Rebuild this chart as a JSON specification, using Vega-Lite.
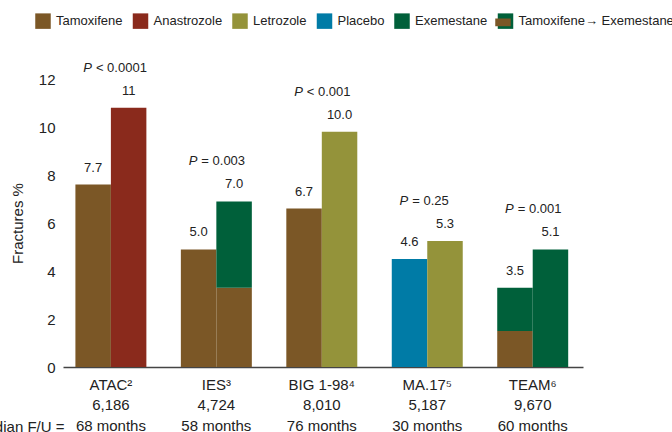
{
  "$schema": "https://vega.github.io/schema/vega-lite/v6.json",
  "width": 520,
  "height": 288,
  "autosize": {"type": "none"},
  "padding": {"left": 63, "top": 79, "right": 89, "bottom": 65},
  "background": "white",
  "config": {
    "view": {"stroke": null},
    "font": "Liberation Sans",
    "text": {"font": "Liberation Sans", "fontSize": 13, "color": "#222"}
  },
  "datasets": {
    "bars": [
      {"study": "ATAC²|6,186|68 months", "side": "a", "drug": "Tamoxifene", "lo": 0, "hi": 7.6},
      {"study": "ATAC²|6,186|68 months", "side": "b", "drug": "Anastrozole", "lo": 0, "hi": 10.8},
      {"study": "IES³|4,724|58 months", "side": "a", "drug": "Tamoxifene", "lo": 0, "hi": 4.9},
      {"study": "IES³|4,724|58 months", "side": "b", "drug": "Tamoxifene", "lo": 0, "hi": 3.3},
      {"study": "IES³|4,724|58 months", "side": "b", "drug": "Exemestane", "lo": 3.3, "hi": 6.9},
      {"study": "BIG 1-98⁴|8,010|76 months", "side": "a", "drug": "Tamoxifene", "lo": 0, "hi": 6.6},
      {"study": "BIG 1-98⁴|8,010|76 months", "side": "b", "drug": "Letrozole", "lo": 0, "hi": 9.8},
      {"study": "MA.17⁵|5,187|30 months", "side": "a", "drug": "Placebo", "lo": 0, "hi": 4.5},
      {"study": "MA.17⁵|5,187|30 months", "side": "b", "drug": "Letrozole", "lo": 0, "hi": 5.25},
      {"study": "TEAM⁶|9,670|60 months", "side": "a", "drug": "Tamoxifene", "lo": 0, "hi": 1.5},
      {"study": "TEAM⁶|9,670|60 months", "side": "a", "drug": "Exemestane", "lo": 1.5, "hi": 3.3},
      {"study": "TEAM⁶|9,670|60 months", "side": "b", "drug": "Exemestane", "lo": 0, "hi": 4.9}
    ],
    "vals": [
      {"study": "ATAC²|6,186|68 months", "side": "a", "top": 7.6, "label": "7.7"},
      {"study": "ATAC²|6,186|68 months", "side": "b", "top": 10.8, "label": "11"},
      {"study": "IES³|4,724|58 months", "side": "a", "top": 4.9, "label": "5.0"},
      {"study": "IES³|4,724|58 months", "side": "b", "top": 6.9, "label": "7.0"},
      {"study": "BIG 1-98⁴|8,010|76 months", "side": "a", "top": 6.6, "label": "6.7"},
      {"study": "BIG 1-98⁴|8,010|76 months", "side": "b", "top": 9.8, "label": "10.0"},
      {"study": "MA.17⁵|5,187|30 months", "side": "a", "top": 4.5, "label": "4.6"},
      {"study": "MA.17⁵|5,187|30 months", "side": "b", "top": 5.25, "label": "5.3"},
      {"study": "TEAM⁶|9,670|60 months", "side": "a", "top": 3.3, "label": "3.5"},
      {"study": "TEAM⁶|9,670|60 months", "side": "b", "top": 4.9, "label": "5.1"}
    ],
    "pv": [
      {"study": "ATAC²|6,186|68 months", "top": 10.8, "p": "P", "rest": "< 0.0001"},
      {"study": "IES³|4,724|58 months", "top": 6.9, "p": "P", "rest": "= 0.003"},
      {"study": "BIG 1-98⁴|8,010|76 months", "top": 9.8, "p": "P", "rest": "< 0.001"},
      {"study": "MA.17⁵|5,187|30 months", "top": 5.25, "p": "P", "rest": "= 0.25"},
      {"study": "TEAM⁶|9,670|60 months", "top": 4.9, "p": "P", "rest": "= 0.001"}
    ],
    "combo": [
      {"combo": "Tamoxifene→ Exemestane"}
    ]
  },
  "layer": [
    {
      "data": {"name": "bars"},
      "mark": {"type": "bar"},
      "encoding": {
        "x": {
          "field": "study", "type": "nominal", "title": "Median F/U =",
          "scale": {
            "domain": ["ATAC²|6,186|68 months", "IES³|4,724|58 months", "BIG 1-98⁴|8,010|76 months", "MA.17⁵|5,187|30 months", "TEAM⁶|9,670|60 months"],
            "paddingInner": 0.327, "paddingOuter": 0.129, "align": 0.456
          },
          "axis": {
            "domainColor": "#444", "domainWidth": 1.5, "ticks": false, "grid": false,
            "labelExpr": "split(datum.value, '|')",
            "labelAngle": 0, "labelFontSize": 15, "labelLineHeight": 20.5, "labelPadding": 10,
            "labelColor": "#222", "labelFont": "Liberation Sans, DejaVu Sans",
            "titleFont": "Liberation Sans", "titleFontSize": 15, "titleFontWeight": "normal", "titleColor": "#222",
            "titleAlign": "right", "titleBaseline": "middle", "titleX": 1, "titleY": 59
          }
        },
        "xOffset": {"field": "side", "type": "nominal", "scale": {"domain": ["a", "b"], "paddingInner": 0, "paddingOuter": 0}},
        "y": {
          "field": "lo", "type": "quantitative", "title": "Fractures %",
          "scale": {"domain": [0, 12]},
          "axis": {
            "values": [0, 2, 4, 6, 8, 10, 12], "domain": false, "ticks": false, "grid": false,
            "labelFontSize": 15, "labelPadding": 8, "labelColor": "#222", "labelFont": "Liberation Sans",
            "titleFont": "Liberation Sans", "titleFontSize": 15, "titleFontWeight": "normal", "titleColor": "#222",
            "titleX": -46, "titleY": 144, "titleBaseline": "middle", "titleAlign": "center"
          }
        },
        "y2": {"field": "hi"},
        "fill": {
          "field": "drug", "type": "nominal",
          "scale": {
            "domain": ["Tamoxifene", "Anastrozole", "Letrozole", "Placebo", "Exemestane", "Tamoxifene→ Exemestane"],
            "range": ["#7B5726", "#8A2A1C", "#94933A", "#007BA6", "#00603A", "#00603A"]
          },
          "legend": {
            "orient": "none", "legendX": -28, "legendY": -66, "direction": "horizontal", "title": null,
            "symbolType": "square", "symbolSize": 240, "symbolStrokeWidth": 0, "symbolOpacity": 1,
            "labelFontSize": 13, "labelFont": "Liberation Sans", "labelColor": "#222", "labelOffset": 5,
            "columnPadding": 9.5, "padding": 0
          }
        }
      }
    },
    {
      "data": {"name": "combo"},
      "mark": {"type": "point", "filled": true, "opacity": 0, "color": "#7B5726"},
      "encoding": {
        "shape": {
          "field": "combo", "type": "nominal",
          "scale": {"domain": ["Tamoxifene→ Exemestane"], "range": ["M-1,0L1,0L1,1L-1,1Z"]},
          "legend": {
            "orient": "none", "legendX": 432, "legendY": -68.5, "direction": "horizontal", "title": null,
            "symbolSize": 240, "symbolStrokeWidth": 0, "symbolOpacity": 1, "symbolFillColor": "#7B5726",
            "labelFontSize": 13, "labelFont": "Liberation Sans", "labelColor": "#222", "labelOpacity": 0, "labelOffset": 5,
            "padding": 0
          }
        }
      }
    },
    {
      "data": {"name": "vals"},
      "mark": {"type": "text", "dy": -17, "baseline": "middle", "fontSize": 13, "color": "#222"},
      "encoding": {
        "x": {"field": "study", "type": "nominal"},
        "xOffset": {"field": "side", "type": "nominal"},
        "y": {"field": "top", "type": "quantitative"},
        "text": {"field": "label"}
      }
    },
    {
      "data": {"name": "pv"},
      "mark": {"type": "text", "dy": -40, "dx": -15, "align": "left", "baseline": "middle", "fontSize": 13, "color": "#222"},
      "encoding": {
        "x": {"field": "study", "type": "nominal"},
        "y": {"field": "top", "type": "quantitative"},
        "text": {"field": "rest"}
      }
    },
    {
      "data": {"name": "pv"},
      "mark": {"type": "text", "dy": -40, "dx": -19, "align": "right", "baseline": "middle", "fontSize": 13, "fontStyle": "italic", "color": "#222"},
      "encoding": {
        "x": {"field": "study", "type": "nominal"},
        "y": {"field": "top", "type": "quantitative"},
        "text": {"field": "p"}
      }
    }
  ]
}
